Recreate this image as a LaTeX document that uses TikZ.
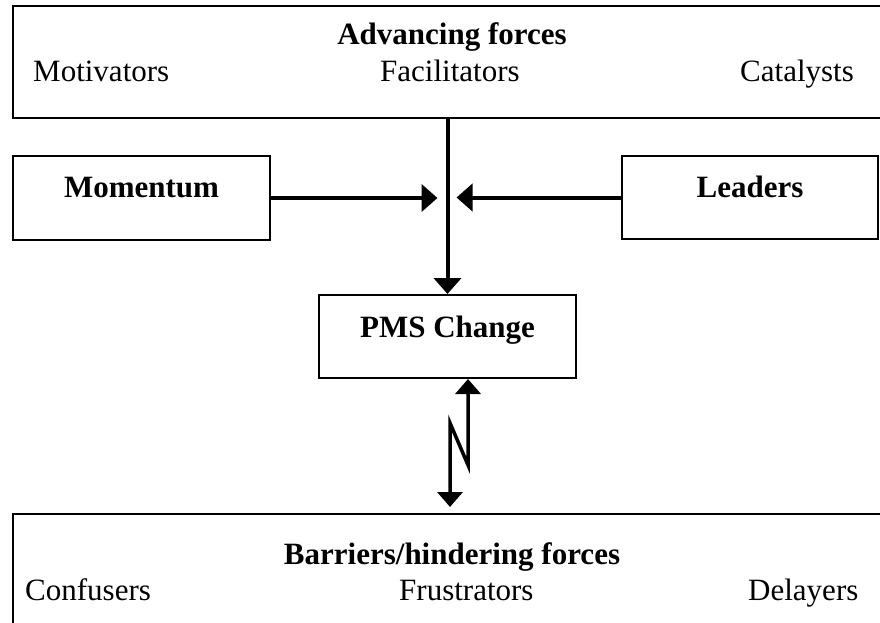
\documentclass[tikz,border=0pt]{standalone}
\usepackage{fontspec}
\setmainfont{Liberation Serif}
\usetikzlibrary{arrows.meta,positioning,calc}

\begin{document}
\begin{tikzpicture}[
    x=1pt, y=-1pt,
    every node/.style={font=\fontsize{31}{36}\selectfont, inner sep=0pt},
    box/.style={rectangle, draw, line width=2pt, fill=white},
    arr/.style={-{Triangle[length=16pt,width=27pt]}, line width=4pt},
    dblarr/.style={{Triangle[length=15pt,width=25pt]}-{Triangle[length=15pt,width=25pt]}, line width=3.5pt}
]
    \useasboundingbox (0,0) rectangle (880,623);
    \clip (0,0) rectangle (880,623);

    \node[box, minimum width=882pt, minimum height=112pt] (adv) at (454,62) {};
    \node[box, minimum width=257pt, minimum height=84pt] (mom) at (141.5,198) {};
    \node[box, minimum width=256pt, minimum height=83pt] (lead) at (750,197.5) {};
    \node[box, minimum width=257pt, minimum height=83pt] (pms) at (447.5,336.5) {};
    \node[box, minimum width=882pt, minimum height=126pt] (bar) at (454,577) {};

    \node[anchor=base] (advt) at (452,45) {\textbf{Advancing forces}};
    \node[anchor=base west] (mot) at (33,82) {Motivators};
    \node[anchor=base west] (fac) at (380,82) {Facilitators};
    \node[anchor=base west] (cat) at (740,82) {Catalysts};

    \node[anchor=base] (momt) at ([yshift=-42pt]mom.north) {\textbf{Momentum}};
    \node[anchor=base] (leadt) at ([yshift=-42pt]lead.north) {\textbf{Leaders}};
    \node[anchor=base] (pmst) at ([yshift=-43pt]pms.north) {\textbf{PMS Change}};

    \node[anchor=base] (bart) at (452,564) {\textbf{Barriers/hindering forces}};
    \node[anchor=base west] (conf) at (25,600) {Confusers};
    \node[anchor=base west] (frus) at (399,600) {Frustrators};
    \node[anchor=base west] (del) at (748,600) {Delayers};

    \coordinate (hitl) at ([xshift=-10pt]pms.north |- mom.east);
    \coordinate (hitr) at ([xshift=9pt]pms.north |- lead.west);
    \coordinate (zb) at (450,423);
    \coordinate (zt) at (468,465);

    \draw[arr] (adv.south -| pms.north) -- (pms.north);
    \draw[arr] (mom.east) -- (hitl);
    \draw[arr] (lead.west) -- (hitr);
    \draw[dblarr, shorten <=6pt] (zb |- bar.north) -- (zb) -- (zt) -- (zt |- pms.south);
\end{tikzpicture}
\end{document}
